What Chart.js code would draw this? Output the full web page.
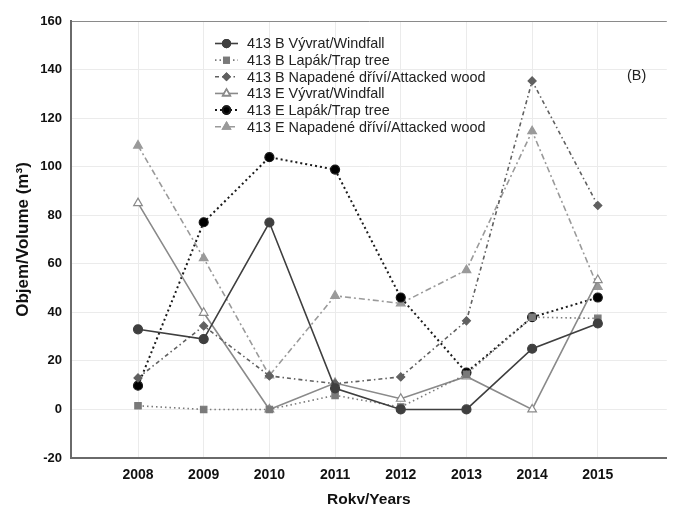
<!DOCTYPE html>
<html lang="cs">
<head>
  <meta charset="UTF-8" />
  <title>Objem/Volume</title>
  <script src="https://cdn.jsdelivr.net/npm/chart.js"></script>
<style>
  body {
    margin: 0;
    background-color: white;
  }
  #wrap {
    width: 673px;
    height: 509px;
    position: relative;
  }
</style>
</head>
<body>
  <div id="wrap"><canvas id="chart"></canvas></div>

  <script>
    const years = [2008, 2009, 2010, 2011, 2012, 2013, 2014, 2015];
    const yTicks = [-20, 0, 20, 40, 60, 80, 100, 120, 140, 160];

    const bWindfall = [33, 29, 77, 8.7, 0, 0, 25, 35.4];
    const bTrap = [1.5, 0, 0, 5.8, 1, 14.5, 38, 37.5];
    const bAttacked = [13, 34.4, 13.8, 10.6, 13.4, 36.5, 135.3, 84];
    const eWindfall = [85, 39.8, 0, 10.9, 4.4, 13.6, 0, 53.3];
    const eTrap = [9.8, 77.1, 103.9, 98.8, 46.1, 15.2, 38, 46.1];
    const eAttacked = [108.7, 62.3, 14, 46.8, 43.7, 57.4, 114.6, 50.5];

    const seriesNames = [
      "413 B Vývrat/Windfall",
      "413 B Lapák/Trap tree",
      "413 B Napadené dříví/Attacked wood",
      "413 E Vývrat/Windfall",
      "413 E Lapák/Trap tree",
      "413 E Napadené dříví/Attacked wood"
    ];

    const toPoints = (vals) => vals.map((v, i) => ({ x: years[i], y: v }));

    // line + marker styles per series
    const styles = [
      { color: "#3f3f3f", dash: [], width: 1.6, point: "circle", r: 4.5, fill: "#3f3f3f" },
      { color: "#7a7a7a", dash: [1.5, 3], width: 1.6, point: "rect", r: 4.5, fill: "#7a7a7a" },
      { color: "#606060", dash: [4, 3, 1.5, 3], width: 1.6, point: "rectRot", r: 4, fill: "#606060" },
      { color: "#8a8a8a", dash: [], width: 1.6, point: "triangle", r: 5, fill: "#ffffff" },
      { color: "#1a1a1a", dash: [2, 3], width: 2, point: "circle", r: 4.5, fill: "#000000" },
      { color: "#9a9a9a", dash: [6, 3, 2, 3], width: 1.6, point: "triangle", r: 5, fill: "#9a9a9a" }
    ];
    const allSeries = [bWindfall, bTrap, bAttacked, eWindfall, eTrap, eAttacked];

    const datasets = allSeries.map((vals, i) => ({
      label: seriesNames[i],
      data: toPoints(vals),
      borderColor: styles[i].color,
      borderWidth: styles[i].width,
      borderDash: styles[i].dash,
      pointStyle: styles[i].point,
      pointRadius: styles[i].r,
      pointBackgroundColor: styles[i].fill,
      pointBorderColor: styles[i].color,
      pointBorderWidth: 1.2,
      tension: 0
    }));

    const font = "'Liberation Sans', Arial, sans-serif";

    // legend drawn inside the plot, plus the (B) panel tag
    const innerLegend = {
      id: "innerLegend",
      afterDraw(chart) {
        const ctx = chart.ctx;
        ctx.save();
        ctx.font = "14.4px " + font;
        ctx.textBaseline = "middle";
        seriesNames.forEach((name, i) => {
          const y = 43.5 + i * 16.65;
          const s = styles[i];
          ctx.strokeStyle = s.color;
          ctx.lineWidth = s.width;
          ctx.setLineDash(s.dash);
          ctx.beginPath();
          ctx.moveTo(215, y);
          ctx.lineTo(238, y);
          ctx.stroke();
          ctx.setLineDash([]);
          Chart.helpers.drawPoint(ctx, {
            pointStyle: s.point, radius: s.r * 0.85, borderWidth: 1
          }, 226.5, y);
          ctx.fillStyle = s.fill;
          ctx.strokeStyle = s.color;
          ctx.fill();
          ctx.stroke();
          ctx.fillStyle = "#222";
          ctx.fillText(name, 247, y + 1);
        });
        ctx.fillText("(B)", 627, 76);
        ctx.restore();
      }
    };

    new Chart(document.getElementById("chart"), {
      type: "line",
      data: { datasets },
      plugins: [innerLegend],
      options: {
        responsive: true,
        maintainAspectRatio: false,
        animation: false,
        layout: { padding: { top: 21, right: 0, left: 0, bottom: 0 } },
        plugins: { legend: { display: false }, tooltip: { enabled: false } },
        scales: {
          x: {
            type: "linear",
            min: 2006.98,
            max: 2016.05,
            afterBuildTicks: (scale) => {
              scale.ticks = years.map((v) => ({ value: v }));
            },
            afterFit: (scale) => { scale.height = 51; },
            ticks: {
              color: "#111",
              font: { family: font, size: 14, weight: "bold" },
              padding: 9,
              callback: (v) => String(v)
            },
            grid: { color: "#ebebeb", drawTicks: false },
            border: { color: "#6a6a6a", width: 2 },
            title: {
              display: true,
              text: "Rokv/Years",
              color: "#111",
              font: { family: font, size: 15.5, weight: "bold" },
              padding: { top: 2, bottom: 0 }
            }
          },
          y: {
            min: -20,
            max: 160,
            afterBuildTicks: (scale) => {
              scale.ticks = yTicks.map((v) => ({ value: v }));
            },
            afterFit: (scale) => { scale.width = 71; },
            ticks: {
              color: "#111",
              font: { family: font, size: 13, weight: "bold" },
              padding: 9
            },
            grid: {
              color: (c) => (c.tick && c.tick.value === 160 ? "#8a8a8a" : "#ebebeb"),
              drawTicks: false
            },
            border: { color: "#6a6a6a", width: 2 },
            title: {
              display: true,
              text: "Objem/Volume (m³)",
              color: "#111",
              font: { family: font, size: 17, weight: "bold" },
              padding: { top: 13, bottom: 8 }
            }
          }
        }
      }
    });
  </script>
</body>
</html>
